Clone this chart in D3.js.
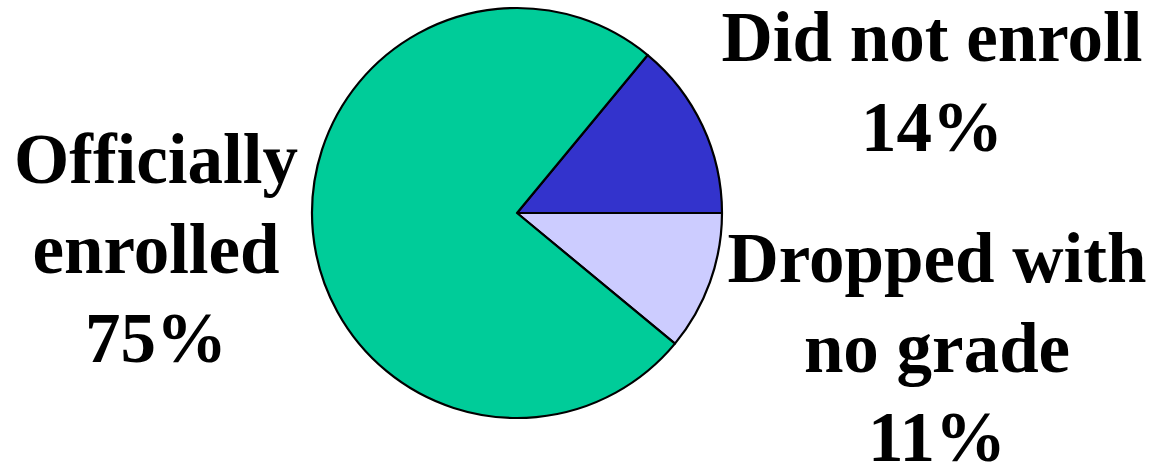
<!DOCTYPE html>
<html>
<head>
<meta charset="utf-8">
<script src="https://cdn.jsdelivr.net/npm/d3@7/dist/d3.min.js"></script>
<style>
html,body{margin:0;padding:0;background:#fff;}
svg{display:block;}
text{font-family:"Liberation Serif","Times New Roman",serif;font-weight:bold;fill:#000;}
</style>
</head>
<body>
<svg id="chart" width="1155" height="469"></svg>
<script>
const categories = ["Did not enroll", "Dropped with no grade", "Officially enrolled"];
const values = [14, 11, 75];
const colors = ["#3333CC", "#CCCCFF", "#00CC99"];
const labelLines = [["Did not enroll", "14%"], ["Dropped with", "no grade", "11%"], ["Officially", "enrolled", "75%"]];
const labelPos = [[932, 61], [937, 282], [156, 183]];

const svg = d3.select("#chart");
const cx = 517, cy = 213, r = 205;
const startDeg = 39.6;
const pie = d3.pie().sort(null).value(d => d)
  .startAngle(startDeg * Math.PI / 180)
  .endAngle((startDeg + 360) * Math.PI / 180);
const arc = d3.arc().innerRadius(0).outerRadius(r);
const g = svg.append("g").attr("transform", `translate(${cx},${cy})`);
g.selectAll("path").data(pie(values)).enter().append("path")
  .attr("d", arc)
  .attr("fill", (d, i) => colors[i])
  .attr("stroke", "#000")
  .attr("stroke-width", 2.2)
  .attr("stroke-linejoin", "round");

const lh = 89.5;
labelLines.forEach((lines, i) => {
  const t = svg.append("text")
    .attr("x", labelPos[i][0]).attr("y", labelPos[i][1])
    .attr("text-anchor", "middle")
    .style("font-size", "71px");
  lines.forEach((ln, j) => {
    t.append("tspan").attr("x", labelPos[i][0]).attr("y", labelPos[i][1] + j * lh).text(ln);
  });
});
</script>
</body>
</html>
